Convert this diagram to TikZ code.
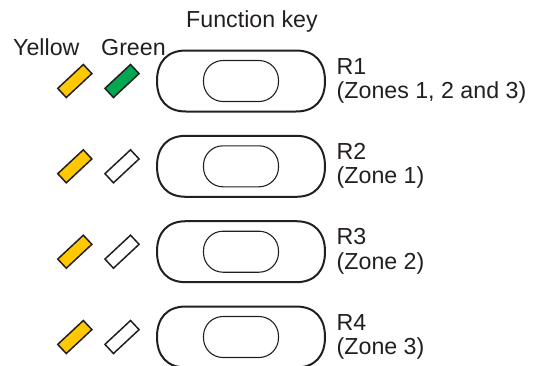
\documentclass[tikz,border=0pt]{standalone}
\usepackage{fontspec}
\setmainfont{Liberation Sans}
\definecolor{ink}{RGB}{35,31,32}
\definecolor{ledyellow}{RGB}{255,200,0}
\definecolor{ledgreen}{RGB}{0,166,80}
\begin{document}
\begin{tikzpicture}[x=1pt,y=-1pt,
  lbl/.style={inner sep=0pt,text=ink,font=\fontsize{23.2}{27}\selectfont},
  led/.style={draw=ink,line width=1.5pt,minimum width=35pt,minimum height=12.5pt,inner sep=0pt,rotate=43},
  fkey/.pic={
    \draw[ink,line width=2pt] (-55,-30.5) -- (55,-30.5)
      .. controls (74,-30.5) and (84,-19) .. (84,0)
      .. controls (84,19) and (74,30.5) .. (55,30.5)
      -- (-55,30.5)
      .. controls (-74,30.5) and (-84,19) .. (-84,0)
      .. controls (-84,-19) and (-74,-30.5) .. (-55,-30.5) -- cycle;
    \draw[ink,line width=1.1pt,rounded corners=19.5pt] (-37.5,-20.5) rectangle (37.5,20.5);
  }]
\useasboundingbox (0,0) rectangle (544,365);
\node[lbl,anchor=base] (fk) at (252,27) {Function key};
\node[lbl,anchor=base west] (yl) at (13,55) {Yellow};
\node[lbl,anchor=base west] (gl) at (101,55) {Green};
\foreach \i/\y/\ra/\rb/\g in {1/81/R1/{(Zones 1, 2 and 3)}/ledgreen,2/166.3/R2/{(Zone 1)}/white,3/251.7/R3/{(Zone 2)}/white,4/337/R4/{(Zone 3)}/white}{
  \node[led,fill=ledyellow] (y\i) at (74.8,\y) {};
  \node[led,fill=\g] (g\i) at (122,\y) {};
  \pic (k\i) at (241,\y) {fkey};
  \node[lbl,anchor=base west] (ra\i) at (336.5,\y-7) {\ra};
  \node[lbl,anchor=base west] (rb\i) at (336.5,\y+17.5) {\rb};
}
\end{tikzpicture}
\end{document}
